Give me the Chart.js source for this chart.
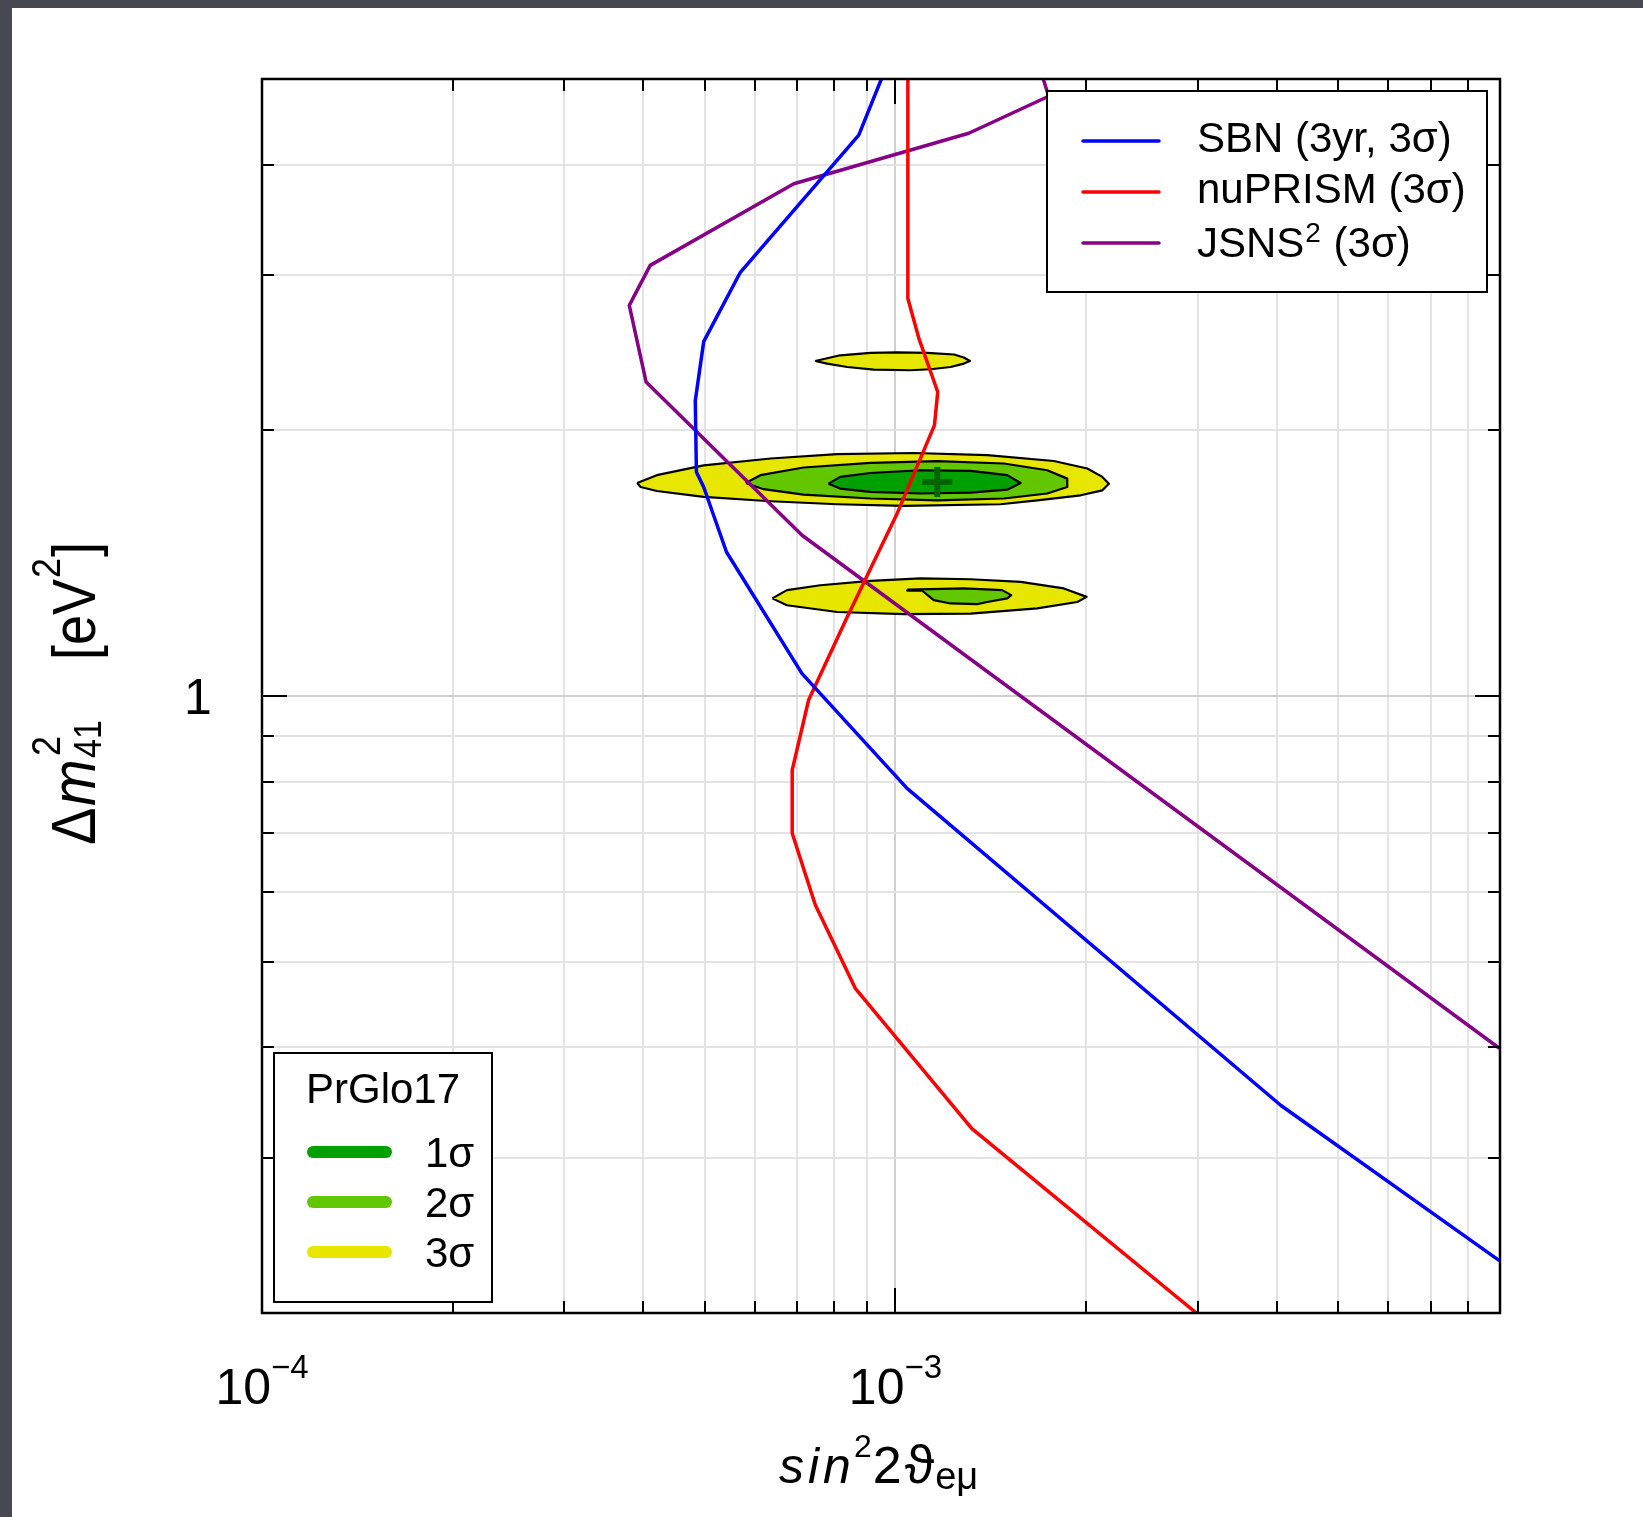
<!DOCTYPE html>
<html>
<head>
<meta charset="utf-8">
<script src="https://cdn.jsdelivr.net/npm/chart.js@4.4.1/dist/chart.umd.min.js"></script>
<style>
html,body{margin:0;padding:0;background:#464952;}
canvas{display:block;}
</style>
</head>
<body>
<canvas id="c" width="1643" height="1517"></canvas>
<script>
// ---------------- DATA ----------------
const xTickValues = [1e-4,2e-4,3e-4,4e-4,5e-4,6e-4,7e-4,8e-4,9e-4,1e-3,2e-3,3e-3,4e-3,5e-3,6e-3,7e-3,8e-3,9e-3];
const yTickValues = [0.2,0.3,0.4,0.5,0.6,0.7,0.8,0.9,1,2,3,4,5];
const xLabelValues = [1e-4, 1e-3];
const yLabelValues = [1];

// Sensitivity curves (sin^2 2theta_e_mu , Delta m^2_41 [eV^2])
const sbnSin2 = [9.50e-4, 8.75e-4, 5.69e-4, 4.98e-4, 4.83e-4, 4.85e-4, 4.98e-4, 5.41e-4, 7.12e-4, 1.043e-3, 4.06e-3, 8.98e-3];
const sbnDm2  = [5.0, 4.32, 3.02, 2.52, 2.16, 1.794, 1.725, 1.456, 1.060, 0.786, 0.3436, 0.2293];

const nuprismSin2 = [1.046e-3, 1.046e-3, 1.089e-3, 1.166e-3, 1.152e-3, 1.006e-3, 8.39e-4, 7.29e-4, 6.87e-4, 6.87e-4, 7.47e-4, 8.64e-4, 1.320e-3, 2.985e-3];
const nuprismDm2  = [5.0, 2.82, 2.54, 2.21, 2.026, 1.61, 1.229, 0.989, 0.824, 0.699, 0.580, 0.4665, 0.3235, 0.2];

const jsnsSin2 = [1.711e-3, 1.745e-3, 1.305e-3, 6.91e-4, 4.10e-4, 3.80e-4, 4.04e-4, 7.12e-4, 8.98e-3];
const jsnsDm2  = [5.0, 4.78, 4.34, 3.805, 3.075, 2.77, 2.268, 1.521, 0.399];

// PrGlo17 allowed regions
const upper3Sin2 = [7.47e-4, 8.18e-4, 9.13e-4, 1.006e-3, 1.122e-3, 1.237e-3, 1.282e-3, 1.311e-3, 1.282e-3, 1.222e-3, 1.136e-3, 1.056e-3, 9.24e-4, 8.39e-4, 7.80e-4];
const upper3Dm2  = [2.396, 2.432, 2.447, 2.451, 2.447, 2.437, 2.418, 2.396, 2.380, 2.359, 2.345, 2.339, 2.343, 2.359, 2.380];

const main3Sin2 = [3.91e-4, 4.20e-4, 4.98e-4, 6.35e-4, 8.09e-4, 1.069e-3, 1.396e-3, 1.778e-3, 2.008e-3, 2.121e-3, 2.172e-3, 2.121e-3, 1.960e-3, 1.674e-3, 1.465e-3, 1.031e-3, 8.09e-4, 6.35e-4, 4.98e-4, 4.20e-4, 3.96e-4];
const main3Dm2  = [1.743, 1.779, 1.825, 1.858, 1.879, 1.885, 1.874, 1.846, 1.810, 1.771, 1.740, 1.710, 1.688, 1.666, 1.649, 1.642, 1.649, 1.662, 1.681, 1.707, 1.725];

const main2Sin2 = [5.80e-4, 6.12e-4, 7.16e-4, 9.13e-4, 1.164e-3, 1.483e-3, 1.736e-3, 1.867e-3, 1.867e-3, 1.736e-3, 1.483e-3, 1.164e-3, 9.13e-4, 7.16e-4, 6.19e-4];
const main2Dm2  = [1.743, 1.779, 1.815, 1.837, 1.845, 1.834, 1.802, 1.763, 1.725, 1.696, 1.674, 1.666, 1.674, 1.691, 1.715];

const main1Sin2 = [7.84e-4, 8.18e-4, 9.13e-4, 1.095e-3, 1.314e-3, 1.501e-3, 1.576e-3, 1.501e-3, 1.314e-3, 1.095e-3, 9.13e-4, 8.18e-4];
const main1Dm2  = [1.740, 1.771, 1.789, 1.802, 1.799, 1.779, 1.743, 1.713, 1.700, 1.696, 1.703, 1.718];

const lower3Sin2 = [6.39e-4, 6.74e-4, 7.61e-4, 9.13e-4, 1.095e-3, 1.314e-3, 1.576e-3, 1.844e-3, 2.003e-3, 1.936e-3, 1.674e-3, 1.314e-3, 1.031e-3, 8.09e-4, 6.74e-4];
const lower3Dm2  = [1.290, 1.318, 1.335, 1.350, 1.359, 1.356, 1.347, 1.324, 1.295, 1.278, 1.257, 1.240, 1.238, 1.245, 1.267];

const lower2Sin2 = [1.044e-3, 1.282e-3, 1.474e-3, 1.523e-3, 1.501e-3, 1.396e-3, 1.346e-3, 1.222e-3, 1.149e-3, 1.102e-3, 1.044e-3];
const lower2Dm2  = [1.320, 1.324, 1.318, 1.301, 1.290, 1.278, 1.271, 1.273, 1.284, 1.316, 1.316];

const bestFitSin2 = [1.164e-3];
const bestFitDm2  = [1.748];

const curveLabels = ['SBN (3yr, 3σ)', 'nuPRISM (3σ)', 'JSNS'];
const sigmaLabels = ['1σ', '2σ', '3σ'];

// ---------------- STYLE ----------------
const FAM = "'Liberation Sans', Arial, Helvetica, 'DejaVu Sans', sans-serif";
const C_BLUE = '#0000ff', C_RED = '#ff0000', C_PURPLE = '#850085';
const C1 = '#00a000', C2 = '#62c600', C3 = '#e6e600';

const pts = (xs, ys) => xs.map((x, i) => ({x, y: ys[i]}));
const closed = (arr) => arr.concat([arr[0]]);

const lineDs = (label, xs, ys, color) => ({
  label, data: pts(xs, ys), showLine: true, borderColor: color, borderWidth: 3.5,
  pointRadius: 0, fill: false, order: 0, borderJoinStyle: 'round'
});
const regionDs = (label, xs, ys, color, order) => ({
  label, data: closed(pts(xs, ys)), showLine: true, borderColor: '#000', borderWidth: 2.2,
  backgroundColor: color, fill: 'shape', pointRadius: 0, order, borderJoinStyle: 'round'
});

function isDecade(v) { const l = Math.log10(v); return Math.abs(l - Math.round(l)) < 1e-6; }

// draw a sequence of text runs; each run: [text, font, dy, gapBefore]
function drawRuns(ctx, x, y, runs) {
  let cx = x;
  for (const [t, f, dy, gap] of runs) {
    cx += gap || 0;
    ctx.font = f;
    ctx.fillText(t, cx, y + (dy || 0));
    cx += ctx.measureText(t).width;
  }
  return cx;
}

const framePlugin = {
  id: 'frame',
  beforeDraw(chart) {
    const ctx = chart.ctx;
    ctx.save();
    ctx.fillStyle = '#464952';
    ctx.fillRect(0, 0, chart.width, chart.height);
    ctx.fillStyle = '#ffffff';
    ctx.fillRect(12, 8, chart.width - 12, chart.height - 8);
    ctx.restore();
  },
  afterDatasetsDraw(chart) {
    const ctx = chart.ctx, a = chart.chartArea;
    const xs = chart.scales.x, ys = chart.scales.y;
    ctx.save();
    ctx.strokeStyle = '#000';
    ctx.lineWidth = 2;
    ctx.beginPath();
    xs.ticks.forEach(t => {
      const p = Math.round(xs.getPixelForValue(t.value));
      const L = isDecade(t.value) ? 25 : 12;
      ctx.moveTo(p, a.bottom); ctx.lineTo(p, a.bottom - L);
      ctx.moveTo(p, a.top); ctx.lineTo(p, a.top + L);
    });
    ys.ticks.forEach(t => {
      const p = Math.round(ys.getPixelForValue(t.value));
      const L = isDecade(t.value) ? 25 : 12;
      ctx.moveTo(a.left, p); ctx.lineTo(a.left + L, p);
      ctx.moveTo(a.right, p); ctx.lineTo(a.right - L, p);
    });
    ctx.stroke();
    ctx.lineWidth = 2.5;
    ctx.strokeRect(a.left, a.top, a.right - a.left, a.bottom - a.top);

    // ---- top-right legend ----
    const L = {l: a.right - 453, r: a.right - 13, t: a.top + 12, b: a.top + 213};
    ctx.fillStyle = '#fff';
    ctx.fillRect(L.l, L.t, L.r - L.l, L.b - L.t);
    ctx.lineWidth = 2;
    ctx.strokeRect(L.l, L.t, L.r - L.l, L.b - L.t);
    const cols = [C_BLUE, C_RED, C_PURPLE];
    ctx.lineWidth = 3.5;
    ctx.lineCap = 'round';
    for (let i = 0; i < 3; i++) {
      const y = L.t + 50 + i * 51;
      ctx.strokeStyle = cols[i];
      ctx.beginPath(); ctx.moveTo(L.l + 36, y); ctx.lineTo(L.l + 112, y); ctx.stroke();
    }
    ctx.fillStyle = '#000';
    ctx.textBaseline = 'alphabetic';
    ctx.textAlign = 'left';
    ctx.font = `42px ${FAM}`;
    const tx = L.l + 150;
    ctx.fillText(curveLabels[0], tx, L.t + 61);
    ctx.fillText(curveLabels[1], tx, L.t + 112);
    drawRuns(ctx, tx, L.t + 166, [
      [curveLabels[2], `42px ${FAM}`, 0, 0],
      ['2', `28px ${FAM}`, -15, 1],
      [' (3σ)', `42px ${FAM}`, 0, 1]
    ]);

    // ---- PrGlo17 legend ----
    const P = {l: a.left + 12, r: a.left + 230, t: a.bottom - 260, b: a.bottom - 11};
    ctx.fillStyle = '#fff';
    ctx.fillRect(P.l, P.t, P.r - P.l, P.b - P.t);
    ctx.strokeStyle = '#000';
    ctx.lineWidth = 2;
    ctx.strokeRect(P.l, P.t, P.r - P.l, P.b - P.t);
    ctx.fillStyle = '#000';
    ctx.font = `42px ${FAM}`;
    ctx.textAlign = 'center';
    ctx.fillText('PrGlo17', P.l + 109, P.t + 50);
    ctx.textAlign = 'left';
    const sc = [C1, C2, C3];
    ctx.lineWidth = 12;
    ctx.lineCap = 'round';
    for (let i = 0; i < 3; i++) {
      const y = P.t + 99 + i * 50;
      ctx.strokeStyle = sc[i];
      ctx.beginPath(); ctx.moveTo(P.l + 39, y); ctx.lineTo(P.l + 112, y); ctx.stroke();
      ctx.fillText(sigmaLabels[i], P.l + 151, P.t + 114 + i * 50);
    }

    // ---- tick labels ----
    ctx.fillStyle = '#000';
    xLabelValues.forEach(v => {
      const p = xs.getPixelForValue(v);
      const e = Math.round(Math.log10(v));
      const base = '10', sup = (e < 0 ? '−' : '') + Math.abs(e);
      ctx.font = `50px ${FAM}`; const wb = ctx.measureText(base).width;
      ctx.font = `33px ${FAM}`; const ws = ctx.measureText(sup).width;
      const x0 = p - (wb + ws) / 2;
      ctx.font = `50px ${FAM}`; ctx.fillText(base, x0, a.bottom + 91);
      ctx.font = `33px ${FAM}`; ctx.fillText(sup, x0 + wb, a.bottom + 65);
    });
    yLabelValues.forEach(v => {
      const p = ys.getPixelForValue(v);
      ctx.font = `50px ${FAM}`;
      ctx.textAlign = 'center';
      ctx.fillText(String(v), a.left - 64, p + 18);
      ctx.textAlign = 'left';
    });

    // ---- x title: sin^2 2θ_eμ ----
    const cx = (a.left + a.right) / 2, by = a.bottom + 170;
    const IT = `italic 50px ${FAM}`;
    drawRuns(ctx, cx - 102, by, [
      ['s', IT, 0, 0],
      ['i', IT, 0, 4],
      ['n', IT, 0, 4],
      ['2', `32px ${FAM}`, -26, 3],
      ['2', `52px ${FAM}`, 0, 1],
      ['ϑ', `54px ${FAM}`, 0, 3],
      ['eμ', `38px ${FAM}`, 6, 1]
    ]);

    // ---- y title: Δm^2_41 [eV^2] ----
    const cy = (a.top + a.bottom) / 2;
    ctx.save();
    ctx.translate(a.left - 167, cy + 149);
    ctx.rotate(-Math.PI / 2);
    ctx.scale(1, 1.12);
    ctx.font = `56px ${FAM}`;
    ctx.fillText('Δ', 0, 0);
    ctx.font = `italic 56px ${FAM}`;
    ctx.fillText('m', 39, 0);
    ctx.font = `36px ${FAM}`;
    ctx.fillText('2', 89, -31);
    ctx.font = `34px ${FAM}`;
    ctx.fillText('41', 87, 5);
    drawRuns(ctx, 185, 0, [
      ['[eV', `54px ${FAM}`, 0, 0],
      ['2', `36px ${FAM}`, -31, 1],
      [']', `54px ${FAM}`, 0, 1]
    ]);
    ctx.restore();

    ctx.restore();
  }
};

const gridColor = (c) => (c.tick && isDecade(c.tick.value)) ? '#d0d0d0' : '#e3e3e3';

new Chart(document.getElementById('c'), {
  type: 'scatter',
  data: {
    datasets: [
      lineDs('SBN', sbnSin2, sbnDm2, C_BLUE),
      lineDs('nuPRISM', nuprismSin2, nuprismDm2, C_RED),
      lineDs('JSNS2', jsnsSin2, jsnsDm2, C_PURPLE),
      {label: 'best fit', data: pts(bestFitSin2, bestFitDm2), showLine: false, pointStyle: 'cross',
       pointRadius: 15, pointBorderWidth: 6, pointBorderColor: '#006400', borderColor: '#006400', order: 1},
      regionDs('1σ main', main1Sin2, main1Dm2, C1, 2),
      regionDs('2σ main', main2Sin2, main2Dm2, C2, 3),
      regionDs('2σ lower', lower2Sin2, lower2Dm2, C2, 3),
      regionDs('3σ main', main3Sin2, main3Dm2, C3, 4),
      regionDs('3σ upper', upper3Sin2, upper3Dm2, C3, 4),
      regionDs('3σ lower', lower3Sin2, lower3Dm2, C3, 4)
    ]
  },
  options: {
    responsive: false,
    animation: false,
    devicePixelRatio: 1,
    events: [],
    layout: {padding: {left: 262, top: 79, right: 143, bottom: 204}, autoPadding: false},
    plugins: {legend: {display: false}, tooltip: {enabled: false}},
    scales: {
      x: {
        type: 'logarithmic', min: 1e-4, max: 9e-3,
        afterBuildTicks: s => { s.ticks = xTickValues.map(v => ({value: v})); },
        ticks: {display: false},
        grid: {drawTicks: false, color: gridColor, lineWidth: 2},
        border: {display: false}
      },
      y: {
        type: 'logarithmic', min: 0.2, max: 5,
        afterBuildTicks: s => { s.ticks = yTickValues.map(v => ({value: v})); },
        ticks: {display: false},
        grid: {drawTicks: false, color: gridColor, lineWidth: 2},
        border: {display: false}
      }
    }
  },
  plugins: [framePlugin]
});
</script>
</body>
</html>
